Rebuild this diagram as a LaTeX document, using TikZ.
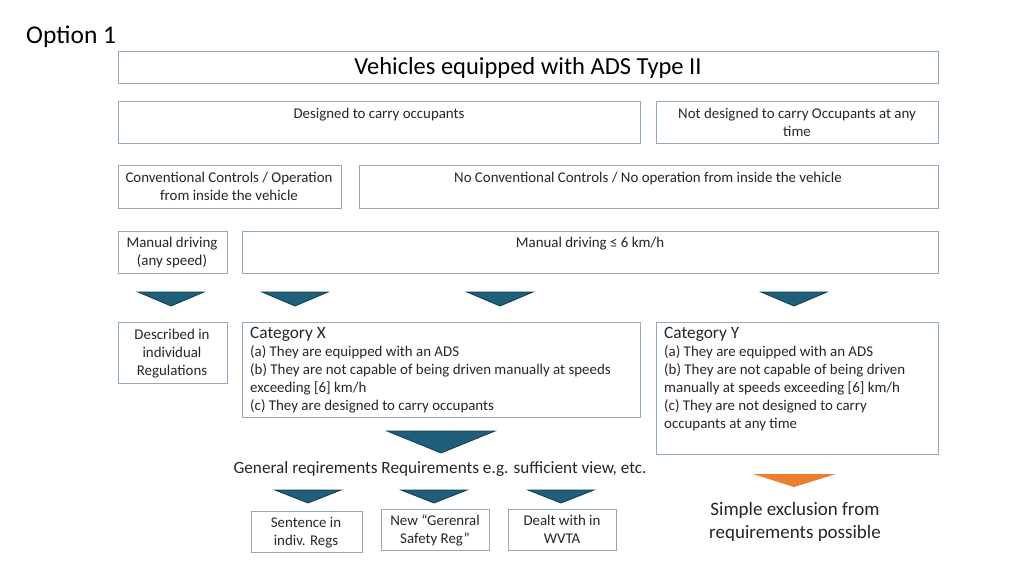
\documentclass[tikz,border=0pt]{standalone}
\usepackage{fontspec}
\setmainfont{Carlito}
\begin{document}
\begin{tikzpicture}[x=1pt,y=-1pt,
  box/.style={draw=boxc,line width=0.8pt},
  t/.style={font=\fontsize{14.9}{18}\selectfont,inner sep=0pt,align=center,text=black!85},
  tri/.style={fill=tric,draw=trid,line width=0.8pt}]
\definecolor{boxc}{HTML}{8FA9BF}
\definecolor{tric}{HTML}{1F5F7A}
\definecolor{trid}{HTML}{0E3B50}
\definecolor{orng}{HTML}{ED7D31}
\useasboundingbox[fill=white] (0,0) rectangle (1024,575);
\node[anchor=west,font=\fontsize{25.5}{28}\selectfont,inner sep=0pt] (opt) at (26,37) {Option 1};
\draw[box] (118,51) rectangle (938,83);
\node[font=\fontsize{24.5}{28}\selectfont,inner sep=0pt] (title) at (528,68) {Vehicles equipped with ADS Type II};
\draw[box] (118,101) rectangle (640,143);
\node[t,anchor=north] (des) at (379,108) {Designed to carry occupants};
\draw[box] (656,101) rectangle (938,143);
\node[t,anchor=north] (ndes) at (797,108) {Not designed to carry Occupants at any\\time};
\draw[box] (118,165) rectangle (341,208);
\node[t,anchor=north] (conv) at (229,172) {Conventional Controls / Operation\\from inside the vehicle};
\draw[box] (359,165) rectangle (938,208);
\node[t,anchor=north] (nconv) at (648,172) {No Conventional Controls / No operation from inside the vehicle};
\draw[box] (118,231) rectangle (227,273);
\node[t,anchor=north] (man) at (172,237) {Manual driving\\(any speed)};
\draw[box] (242,231) rectangle (938,273);
\node[t,anchor=north] (man6) at (590,237) {Manual driving ≤ 6 km/h};
\foreach \c in {171,295,500,794}
  \draw[tri] (\c-33,292) -- (\c+33,292) -- (\c,306) -- cycle;
\draw[box] (118,322) rectangle (227,383);
\node[t,anchor=north] (desc) at (172,329) {Described in\\individual\\Regulations};
\draw[box] (242,322) rectangle (640,417);
\node[t,anchor=north west,align=left] (catx) at (250,327) {{\fontsize{17.3}{18}\selectfont Category X}\\(a) They are equipped with an ADS\\(b) They are not capable of being driven manually at speeds\\exceeding [6] km/h\\(c) They are designed to carry occupants};
\draw[box] (656,322) rectangle (938,454);
\node[t,anchor=north west,align=left] (caty) at (664,327) {{\fontsize{17.3}{18}\selectfont Category Y}\\(a) They are equipped with an ADS\\(b) They are not capable of being driven\\manually at speeds exceeding [6] km/h\\(c) They are not designed to carry\\occupants at any time};
\draw[tri] (387,431) -- (495,431) -- (441,453) -- cycle;
\node[t,font=\fontsize{17.2}{20}\selectfont] (gen) at (440,469) {General reqirements Requirements e.g. sufficient view, etc.};
\foreach \c in {308,434,561}
  \draw[tri] (\c-33,490) -- (\c+33,490) -- (\c,503) -- cycle;
\fill[orng] (753,474) -- (836,474) -- (794,487) -- cycle;
\node[t,font=\fontsize{19}{23}\selectfont] (simp) at (795,522) {Simple exclusion from\\requirements possible};
\draw[box] (251,511) rectangle (362,552);
\node[t,anchor=north] (sent) at (306,517) {Sentence in\\indiv. Regs};
\draw[box] (381,509) rectangle (489,550);
\node[t,anchor=north] (gsr) at (435,515) {New “Gerenral\\Safety Reg”};
\draw[box] (508,509) rectangle (616,550);
\node[t,anchor=north] (wvta) at (562,515) {Dealt with in\\WVTA};
\end{tikzpicture}
\end{document}
